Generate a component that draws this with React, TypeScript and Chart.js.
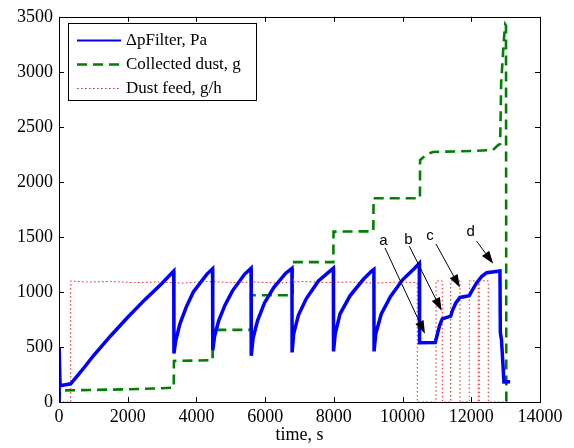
import React, { useEffect, useRef } from 'react';
import { Chart, registerables } from 'chart.js';

Chart.register(...registerables);

// ΔpFilter, Pa
const dpTime = [
  0, 5, 30, 60, 150, 340, 700, 1000, 1500, 2000, 2500, 3000, 3340,
  3345, 3400, 3520, 3700, 3910, 4300, 4470,
  4475, 4530, 4650, 4830, 5050, 5400, 5590,
  5595, 5650, 5780, 5980, 6250, 6600, 6780,
  6785, 6830, 6970, 7200, 7550, 7850, 7985,
  7990, 8040, 8180, 8470, 8860, 9100, 9165,
  9170, 9220, 9380, 9650, 10000, 10350, 10487,
  10495, 10950, 11000, 11080, 11156, 11400, 11450, 11550, 11670, 11941, 12000, 12150, 12300, 12450, 12835,
  12845, 12880, 12920, 12950, 13130,
];
const dpValue = [
  0, 500, 160, 150, 155, 165, 300, 420, 600, 770, 930, 1080, 1190,
  440, 560, 710, 860, 1000, 1160, 1210,
  470, 600, 740, 880, 1010, 1160, 1215,
  420, 580, 740, 900, 1040, 1170, 1215,
  450, 620, 790, 940, 1100, 1180, 1215,
  460, 620, 800, 965, 1115, 1190, 1205,
  460, 620, 800, 960, 1110, 1215, 1260,
  538, 540, 600, 700, 755, 780, 830, 900, 950, 965, 1000, 1080, 1140, 1175, 1190,
  634, 560, 350, 183, 185,
];

// Collected dust, g
const dustTime = [
  0, 30, 60, 1000, 2000, 3000, 3340, 3345, 4470, 4475, 5590, 5595, 6800, 6805,
  7985, 7990, 9150, 9155, 10505, 10510, 10700, 10885, 12000, 12630, 12780, 12840,
  12870, 12950, 12990, 13010, 13020,
];
const dustValue = [
  0, 95, 105, 110, 115, 125, 130, 373, 380, 655, 655, 970, 970, 1271,
  1271, 1548, 1551, 1851, 1851, 2197, 2250, 2272, 2280, 2290, 2335, 2345,
  2900, 3300, 3430, 3420, 0,
];

// Dust feed, g/h
const feedTime = [
  0, 340, 341, 800, 1500, 2200, 2900, 3600, 4300, 5000, 5700, 6400, 7100, 7800,
  8500, 9200, 9900, 10428, 10429, 10972, 10973, 11156, 11157, 11400, 11401, 11670,
  11671, 11941, 11942, 12203, 12204, 12230, 12231, 12494, 12495, 13100,
];
const feedValue = [
  0, 0, 1100, 1090, 1095, 1085, 1090, 1080, 1095, 1085, 1090, 1080, 1095, 1085,
  1090, 1080, 1090, 1085, 0, 0, 1100, 1100, 0, 0, 1100, 1100,
  0, 0, 1100, 1100, 0, 0, 1100, 1100, 0, 0,
];

const seriesLabels = ['\u0394pFilter, Pa', 'Collected dust, g', 'Dust feed, g/h'];
const xTicks = [0, 2000, 4000, 6000, 8000, 10000, 12000, 14000];
const yTicks = [0, 500, 1000, 1500, 2000, 2500, 3000, 3500];
const xTitle = 'time, s';

const noteLabels = ['a', 'b', 'c', 'd'];
const noteLabelX = [9440, 10167, 10797, 11982];
const noteLabelY = [1467, 1476, 1506, 1542];
const noteStartX = [9488, 10196, 10972, 12156];
const noteStartY = [1400, 1416, 1436, 1461];
const noteTipX = [10652, 11138, 11670, 12640];
const noteTipY = [620, 830, 1040, 1256];

const SERIF = "'Liberation Serif', 'Times New Roman', serif";
const SANS = "'Liberation Sans', Arial, sans-serif";

const toPoints = (xs: number[], ys: number[]) => xs.map((x, i) => ({ x, y: ys[i] }));

const matlabPlugin = {
  id: 'matlabDecor',
  afterDatasetsDraw(chart: any) {
    const { ctx, chartArea, scales } = chart;
    const { left, right, top, bottom } = chartArea;
    const xs = scales.x;
    const ys = scales.y;
    ctx.save();

    // annotations (arrows + letters)
    ctx.strokeStyle = '#000';
    ctx.fillStyle = '#000';
    ctx.lineWidth = 1;
    ctx.setLineDash([]);
    for (let i = 0; i < noteLabels.length; i++) {
      const sx = xs.getPixelForValue(noteStartX[i]);
      const sy = ys.getPixelForValue(noteStartY[i]);
      const tx = xs.getPixelForValue(noteTipX[i]);
      const ty = ys.getPixelForValue(noteTipY[i]);
      const ang = Math.atan2(ty - sy, tx - sx);
      const hl = 13;
      const hw = 4.5;
      const bx = tx - hl * Math.cos(ang);
      const by = ty - hl * Math.sin(ang);
      ctx.beginPath();
      ctx.moveTo(sx, sy);
      ctx.lineTo(bx, by);
      ctx.stroke();
      ctx.beginPath();
      ctx.moveTo(tx, ty);
      ctx.lineTo(bx + hw * Math.sin(ang), by - hw * Math.cos(ang));
      ctx.lineTo(bx - hw * Math.sin(ang), by + hw * Math.cos(ang));
      ctx.closePath();
      ctx.fill();
      ctx.font = `15px ${SANS}`;
      ctx.textAlign = 'center';
      ctx.textBaseline = 'middle';
      ctx.fillText(noteLabels[i], xs.getPixelForValue(noteLabelX[i]), ys.getPixelForValue(noteLabelY[i]));
    }

    // axes box
    ctx.strokeStyle = '#000';
    ctx.lineWidth = 1;
    ctx.strokeRect(Math.round(left) + 0.5, Math.round(top) + 0.5, Math.round(right - left), Math.round(bottom - top));
    const tl = 5;
    ctx.beginPath();
    for (const v of xTicks) {
      const px = Math.round(xs.getPixelForValue(v)) + 0.5;
      ctx.moveTo(px, bottom);
      ctx.lineTo(px, bottom - tl);
      ctx.moveTo(px, top);
      ctx.lineTo(px, top + tl);
    }
    for (const v of yTicks) {
      const py = Math.round(ys.getPixelForValue(v)) + 0.5;
      ctx.moveTo(left, py);
      ctx.lineTo(left + tl, py);
      ctx.moveTo(right, py);
      ctx.lineTo(right - tl, py);
    }
    ctx.stroke();

    // legend
    const lx = 68, ly = 23, lw = 188, lh = 77;
    ctx.fillStyle = '#fff';
    ctx.fillRect(lx, ly, lw, lh);
    ctx.strokeStyle = '#000';
    ctx.strokeRect(lx + 0.5, ly + 0.5, lw, lh);
    const rows = [40, 64, 88];
    chart.data.datasets.forEach((ds: any, i: number) => {
      const ry = rows[i] + 0.5;
      ctx.save();
      ctx.strokeStyle = ds.borderColor;
      ctx.lineWidth = i === 0 ? 2 : i === 1 ? 2.5 : 1;
      ctx.setLineDash(ds.borderDash || []);
      ctx.beginPath();
      ctx.moveTo(77, ry);
      ctx.lineTo(121, ry);
      ctx.stroke();
      ctx.restore();
      ctx.fillStyle = '#000';
      ctx.font = `17px ${SERIF}`;
      ctx.textAlign = 'left';
      ctx.textBaseline = 'middle';
      ctx.fillText(ds.label, 126, rows[i] + 1);
    });

    ctx.restore();
  },
};

export default function App() {
  const ref = useRef<HTMLCanvasElement | null>(null);
  useEffect(() => {
    document.body.style.margin = '0';
    const canvas = ref.current;
    if (!canvas) return;
    const chart = new Chart(canvas, {
      type: 'line',
      data: {
        datasets: [
          {
            label: seriesLabels[0],
            data: toPoints(dpTime, dpValue),
            borderColor: '#0000ff',
            borderWidth: 3.5,
            pointRadius: 0,
            tension: 0,
            fill: false,
          },
          {
            label: seriesLabels[1],
            data: toPoints(dustTime, dustValue),
            borderColor: '#008000',
            borderWidth: 2.6,
            borderDash: [10, 6],
            pointRadius: 0,
            tension: 0,
            fill: false,
          },
          {
            label: seriesLabels[2],
            data: toPoints(feedTime, feedValue),
            borderColor: 'rgb(235,30,30)',
            borderWidth: 1,
            borderDash: [1.5, 2.5],
            pointRadius: 0,
            tension: 0,
            fill: false,
          },
        ],
      },
      options: {
        responsive: false,
        animation: false,
        events: [],
        layout: { padding: { top: 14, right: 34, left: 0, bottom: 0 } },
        plugins: {
          legend: { display: false },
          tooltip: { enabled: false },
          title: { display: false },
        },
        scales: {
          x: {
            type: 'linear',
            min: 0,
            max: 14000,
            afterBuildTicks: (s: any) => {
              s.ticks = xTicks.map((v) => ({ value: v }));
            },
            afterFit: (s: any) => {
              s.height = 46;
            },
            grid: { display: false, drawTicks: false },
            border: { display: false },
            ticks: {
              color: '#000',
              font: { family: SERIF, size: 18 },
              padding: 4,
              maxRotation: 0,
              autoSkip: false,
              callback: (v: any) => String(v),
            },
            title: {
              display: true,
              text: xTitle,
              color: '#000',
              font: { family: SERIF, size: 18 },
              padding: { top: 0, bottom: 2 },
            },
          },
          y: {
            type: 'linear',
            min: 0,
            max: 3500,
            afterBuildTicks: (s: any) => {
              s.ticks = yTicks.map((v) => ({ value: v }));
            },
            afterFit: (s: any) => {
              s.width = 59;
            },
            grid: { display: false, drawTicks: false },
            border: { display: false },
            ticks: {
              color: '#000',
              font: { family: SERIF, size: 18 },
              padding: 6,
              autoSkip: false,
              callback: (v: any) => String(v),
            },
          },
        },
      },
      plugins: [matlabPlugin],
    } as any);
    return () => chart.destroy();
  }, []);
  return (
    <div style={{ width: 574, height: 448, background: '#fff' }}>
      <canvas ref={ref} width={574} height={448} style={{ display: 'block' }} />
    </div>
  );
}
